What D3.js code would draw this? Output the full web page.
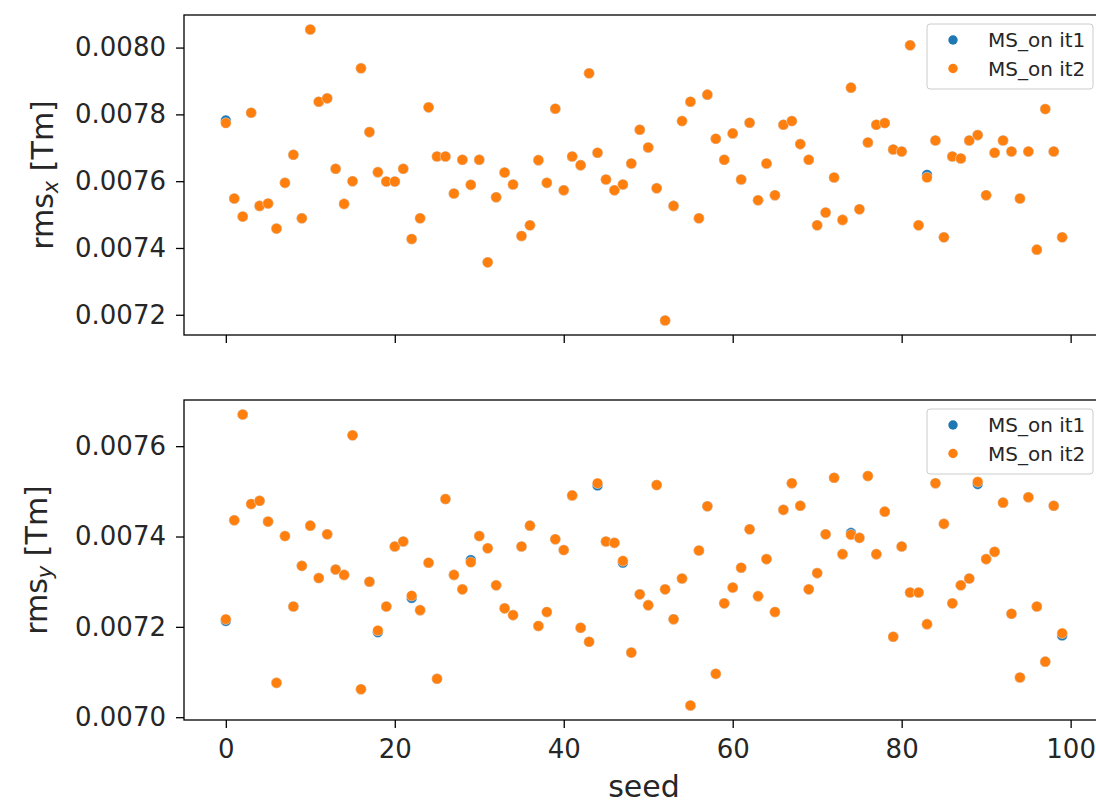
<!DOCTYPE html>
<html><head><meta charset="utf-8">
<script src="https://cdn.jsdelivr.net/npm/d3@7"></script>
<style>body{margin:0;background:#fff;} svg{display:block;}</style>
</head><body>
<svg id="chart" width="1096" height="806"></svg>
<script>
const seeds = d3.range(0, 100);
const rmsxIt1 = [77.82,75.48,74.94,78.05,75.26,75.33,74.58,75.95,76.79,74.89,
80.54,78.38,78.48,76.37,75.32,76.00,79.38,77.47,76.27,75.99,
75.99,76.37,74.27,74.89,78.21,76.74,76.74,75.63,76.64,75.89,
76.64,73.57,75.52,76.26,75.90,74.36,74.68,76.63,75.95,78.17,
75.73,76.74,76.48,79.23,76.85,76.05,75.73,75.90,76.53,77.54,
77.01,75.79,71.83,75.26,77.80,78.38,74.89,78.59,77.27,76.64,
77.43,76.05,77.75,75.43,76.53,75.58,77.69,77.80,77.11,76.64,
74.68,75.06,76.11,74.84,78.80,75.16,77.16,77.69,77.74,76.95,
76.89,80.07,74.68,76.19,77.22,74.32,76.74,76.68,77.22,77.38,
75.58,76.85,77.22,76.89,75.48,76.89,73.95,78.16,76.89,74.32];
const rmsxIt2 = [77.74,75.48,74.94,78.05,75.26,75.33,74.58,75.95,76.79,74.89,
80.54,78.38,78.48,76.37,75.32,76.00,79.38,77.47,76.27,75.99,
75.99,76.37,74.27,74.89,78.21,76.74,76.74,75.63,76.64,75.89,
76.64,73.57,75.52,76.26,75.90,74.36,74.68,76.63,75.95,78.17,
75.73,76.74,76.48,79.23,76.85,76.05,75.73,75.90,76.53,77.54,
77.01,75.79,71.83,75.26,77.80,78.38,74.89,78.59,77.27,76.64,
77.43,76.05,77.75,75.43,76.53,75.58,77.69,77.80,77.11,76.64,
74.68,75.06,76.11,74.84,78.80,75.16,77.16,77.69,77.74,76.95,
76.89,80.07,74.68,76.11,77.22,74.32,76.74,76.68,77.22,77.38,
75.58,76.85,77.22,76.89,75.48,76.89,73.95,78.16,76.89,74.32];
const rmsyIt1 = [72.13,74.36,76.70,74.72,74.79,74.33,70.76,74.01,72.45,73.35,
74.24,73.08,74.05,73.27,73.15,76.24,70.62,73.00,71.88,72.45,
73.78,73.89,72.64,72.37,73.42,70.85,74.83,73.15,72.83,73.48,
74.01,73.74,72.92,72.41,72.26,73.78,74.24,72.02,72.33,73.94,
73.70,74.91,71.98,71.67,75.13,73.89,73.86,73.42,71.43,72.72,
72.48,75.14,72.83,72.17,73.07,70.26,73.69,74.67,70.96,72.52,
72.87,73.31,74.16,72.68,73.50,72.33,74.59,75.18,74.68,72.83,
73.19,74.05,75.30,73.61,74.08,73.97,75.34,73.61,74.55,71.78,
73.78,72.76,72.76,72.06,75.18,74.28,72.52,72.92,73.07,75.16,
73.50,73.66,74.75,72.29,70.88,74.87,72.45,71.23,74.68,71.81];
const rmsyIt2 = [72.17,74.36,76.70,74.72,74.79,74.33,70.76,74.01,72.45,73.35,
74.24,73.08,74.05,73.27,73.15,76.24,70.62,73.00,71.92,72.45,
73.78,73.89,72.69,72.37,73.42,70.85,74.83,73.15,72.83,73.43,
74.01,73.74,72.92,72.41,72.26,73.78,74.24,72.02,72.33,73.94,
73.70,74.91,71.98,71.67,75.18,73.89,73.86,73.46,71.43,72.72,
72.48,75.14,72.83,72.17,73.07,70.26,73.69,74.67,70.96,72.52,
72.87,73.31,74.16,72.68,73.50,72.33,74.59,75.18,74.68,72.83,
73.19,74.05,75.30,73.61,74.04,73.97,75.34,73.61,74.55,71.78,
73.78,72.76,72.76,72.06,75.18,74.28,72.52,72.92,73.07,75.21,
73.50,73.66,74.75,72.29,70.88,74.87,72.45,71.23,74.68,71.86];
const valueUnit = 1e-4;
const xTicks = [0, 20, 40, 60, 80, 100];
const yTicksTop = [0.0072, 0.0074, 0.0076, 0.0078, 0.0080];
const yTicksBottom = [0.0070, 0.0072, 0.0074, 0.0076];
const seriesNames = ["MS_on it1", "MS_on it2"];
const seriesColors = ["#1f77b4", "#ff7f0e"];
const xLabel = "seed";

const svg = d3.select("#chart");
const FONT = "DejaVu Sans, sans-serif";
const TXT = "#262626";
const left = 184, right = 1104;
const x = d3.scaleLinear().domain([-4.95, 103.95]).range([left, right]);

function pad(vals) {
  const e = d3.extent(vals);
  const m = (e[1] - e[0]) * 0.05;
  return [e[0] - m, e[1] + m];
}

function panel(top, bottom, s1, s2, yTicks, labelSub, labelX, showXLabels, legendTop) {
  const v1 = s1.map(v => v * valueUnit), v2 = s2.map(v => v * valueUnit);
  const y = d3.scaleLinear().domain(pad(v1.concat(v2))).range([bottom, top]);
  const g = svg.append("g");
  [v1, v2].forEach((vals, k) => {
    g.append("g").selectAll("circle").data(seeds).join("circle")
      .attr("cx", d => x(d)).attr("cy", d => y(vals[d])).attr("r", 5.3)
      .attr("fill", seriesColors[k]).attr("stroke", "#fff").attr("stroke-width", 0.6)
      .attr("stroke-opacity", 0.7);
  });
  g.append("rect").attr("x", left).attr("y", top).attr("width", right - left)
    .attr("height", bottom - top).attr("fill", "none").attr("stroke", "#000").attr("stroke-width", 1.3);
  const ya = d3.axisLeft(y).tickValues(yTicks).tickFormat(d3.format(".4f")).tickSize(8).tickPadding(10);
  const yg = g.append("g").attr("transform", `translate(${left},0)`).call(ya);
  yg.select(".domain").remove();
  yg.selectAll("line").attr("stroke", "#000").attr("stroke-width", 1.3);
  yg.selectAll("text").attr("font-family", FONT).attr("font-size", 26).attr("fill", TXT);
  const xa = d3.axisBottom(x).tickValues(xTicks).tickSize(8).tickPadding(12);
  const xg = g.append("g").attr("transform", `translate(0,${bottom})`).call(xa);
  xg.select(".domain").remove();
  xg.selectAll("line").attr("stroke", "#000").attr("stroke-width", 1.3);
  if (showXLabels) {
    xg.selectAll("text").attr("font-family", FONT).attr("font-size", 26).attr("fill", TXT);
  } else {
    xg.selectAll("text").remove();
  }
  const cy = (top + bottom) / 2;
  const t = g.append("text").attr("transform", `translate(${labelX},${cy}) rotate(-90)`)
    .attr("text-anchor", "middle").attr("font-family", FONT).attr("font-size", 30).attr("fill", TXT);
  t.append("tspan").text("rms");
  t.append("tspan").attr("font-size", 21).attr("font-style", "italic").attr("dy", 5).text(labelSub);
  t.append("tspan").attr("dy", -5).text(" [Tm]");
  const lg = g.append("g").attr("transform", `translate(927,${legendTop})`);
  lg.append("rect").attr("width", 166).attr("height", 65).attr("rx", 3)
    .attr("fill", "#fff").attr("fill-opacity", 0.8).attr("stroke", "#ccc").attr("stroke-width", 1);
  seriesNames.forEach((n, k) => {
    const yy = 16 + k * 28.5;
    lg.append("circle").attr("cx", 26).attr("cy", yy).attr("r", 4.7).attr("fill", seriesColors[k]);
    lg.append("text").attr("x", 61).attr("y", yy).attr("dy", "0.36em")
      .attr("font-family", FONT).attr("font-size", 20).attr("fill", TXT).text(n);
  });
}

panel(15, 335, rmsxIt1, rmsxIt2, yTicksTop, "x", 53, false, 24);
panel(400, 720, rmsyIt1, rmsyIt2, yTicksBottom, "y", 47, true, 409);

svg.append("text").attr("x", (left + right) / 2).attr("y", 797).attr("text-anchor", "middle")
  .attr("font-family", FONT).attr("font-size", 30).attr("fill", TXT).text(xLabel);
</script>
</body></html>
